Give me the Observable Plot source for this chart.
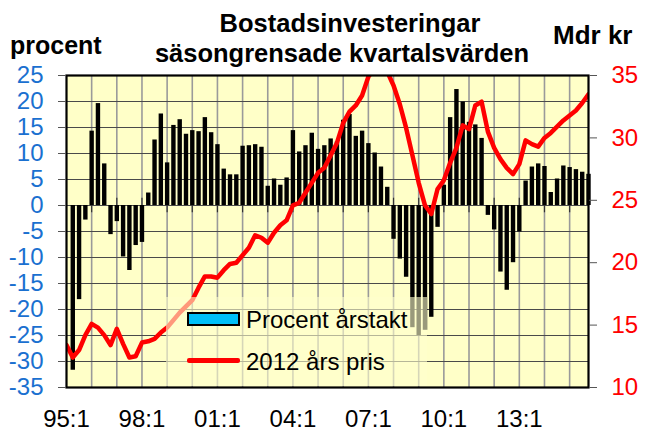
<!DOCTYPE html>
<html>
<head>
<meta charset="utf-8">
<script src="https://cdn.jsdelivr.net/npm/d3@7"></script>
<script src="https://cdn.jsdelivr.net/npm/@observablehq/plot@0.6"></script>
<style>
  html, body { margin: 0; padding: 0; background: #fff; }
  #wrap { position: relative; width: 646px; height: 430px; font-family: "Liberation Sans", Arial, sans-serif; }
  .t { position: absolute; white-space: nowrap; line-height: 1; }
  .b { font-weight: bold; color: #000; }
</style>
</head>
<body>
<div id="wrap"></div>
<script>
// ---- data ----
const xTickPos = [0, 12, 24, 36, 48, 60, 72];
const xTickLabels = ["95:1", "98:1", "01:1", "04:1", "07:1", "10:1", "13:1"];
const leftTicks = [-35, -30, -25, -20, -15, -10, -5, 0, 5, 10, 15, 20, 25];
const rightTicks = [10, 15, 20, 25, 30, 35];
const yearGrid = [4, 8, 12, 16, 20, 24, 28, 32, 36, 40, 44, 48, 52, 56, 60, 64, 68, 72, 76, 80];
const hGrid = [-30, -25, -20, -15, -10, -5, 0, 5, 10, 15, 20];

// Procent årstakt (quarter 95:2 .. 15:4)
const barValues = [
  -31.7, -18.1, -2.8, 14.3, 19.6, 8.0, -5.6, -3.1, -9.9, -12.5, -7.7, -7.1,
  2.4, 12.6, 17.6, 8.2, 15.4, 16.5, 13.7, 14.4, 14.2, 16.9, 14.0, 11.7,
  7.0, 5.9, 5.9, 11.4, 11.5, 11.7, 11.2, 3.7, 5.1, 3.9, 5.3, 14.4,
  10.3, 11.5, 13.9, 10.8, 11.5, 12.8, 12.2, 16.4, 17.5, 13.3, 14.3, 11.9,
  10.1, 7.4, 3.5, -6.5, -10.3, -13.8, -23.5, -25.0, -24.0, -21.5, -4.2, 3.9,
  16.9, 22.3, 19.9, 16.0, 15.5, 12.9, -1.9, -4.7, -12.8, -16.3, -11.0, -5.1,
  4.7, 7.4, 8.0, 7.5, 2.5, 5.1, 7.6, 7.3, 6.9, 6.4, 6.0
];
// 2012 års pris, Mdr kr (quarter 95:1 .. 15:4)
const lineValues = [
  13.4, 12.4, 13.0, 14.2, 15.1, 14.8, 14.2, 13.4, 14.7, 13.5, 12.4, 12.5,
  13.6, 13.7, 13.9, 14.4, 14.8, 15.4, 16.0, 16.5, 17.0, 18.0, 18.9, 18.9,
  18.8, 19.4, 19.9, 20.0, 20.6, 21.2, 22.2, 22.0, 21.6, 22.4, 23.0, 23.4,
  24.6, 24.8, 25.6, 26.4, 27.2, 27.6, 28.6, 29.6, 31.2, 32.1, 32.6, 33.4,
  34.9, 35.6, 36.0, 35.3, 34.2, 32.7, 30.8, 28.6, 26.4, 24.6, 23.9, 25.9,
  26.6, 28.0, 29.2, 31.0, 30.7, 32.6, 32.9, 30.5, 29.2, 28.3, 27.6, 27.1,
  27.9, 29.8, 29.5, 29.3, 30.0, 30.4, 30.9, 31.4, 31.8, 32.2, 32.8, 33.5
];

// ---- mapping right axis onto left scale ----
const L0 = -35, L1 = 25, R0 = 10, R1 = 35;
const toLeft = v => L0 + (v - R0) * (L1 - L0) / (R1 - R0);
const fromLeft = y => R0 + (y - L0) * (R1 - R0) / (L1 - L0);

const bars = barValues.map((v, i) => ({k: i + 1, v}));
const line = lineValues.map((v, i) => ({k: i, v}));

const FONT = "Liberation Sans, Arial, sans-serif";
const chart = Plot.plot({
  width: 646,
  height: 430,
  marginTop: 75,
  marginBottom: 43,
  marginLeft: 66,
  marginRight: 58,
  style: {fontFamily: FONT, fontSize: "24px", background: "transparent", overflow: "visible"},
  x: {type: "linear", domain: [0, 83], axis: null},
  y: {type: "linear", domain: [L0, L1], axis: null},
  marks: [
    Plot.frame({fill: "#ffffc8", stroke: null}),
    Plot.ruleX(yearGrid, {stroke: "#9a9a9a", strokeWidth: 1.6}),
    Plot.ruleY(hGrid, {stroke: "#4a4a4a", strokeWidth: 1.1}),
    Plot.ruleX(yearGrid, {y1: -1.4, y2: 1.4, stroke: "#333", strokeWidth: 1.2}),
    Plot.ruleX(bars, {x: "k", y1: 0, y2: "v", stroke: "#000", strokeWidth: 4.4}),
    Plot.line(line, {x: "k", y: d => toLeft(d.v), stroke: "#ff0000", strokeWidth: 4.5, strokeLinejoin: "round", strokeLinecap: "round", clip: true}),
    Plot.frame({stroke: "#000", strokeWidth: 2.2}),
    // left axis
    Plot.axisY(leftTicks, {anchor: "left", tickSize: 8, tickPadding: 15, stroke: "#555", fill: "#1a70d0", fontSize: 24, tickFormat: d => String(d), label: null}),
    // right axis
    Plot.axisY(rightTicks.map(toLeft), {anchor: "right", tickSize: 8, tickPadding: 15, stroke: "#555", fill: "#ff0000", fontSize: 24, tickFormat: d => String(Math.round(fromLeft(d))), label: null}),
    // x axis labels
    Plot.axisX(xTickPos, {anchor: "bottom", tickSize: 0, tickPadding: 22, fill: "#000", fontSize: 24, tickFormat: d => xTickLabels[xTickPos.indexOf(d)], label: null})
  ]
});

const wrap = document.getElementById("wrap");
chart.style.position = "absolute";
chart.style.left = "0px";
chart.style.top = "0px";
wrap.appendChild(chart);

function addText(txt, cls, css) {
  const d = document.createElement("div");
  d.className = "t " + cls;
  d.textContent = txt;
  Object.assign(d.style, css);
  wrap.appendChild(d);
  return d;
}
// titles
addText("Bostadsinvesteringar", "b", {left: "0px", width: "700px", textAlign: "center", top: "11px", fontSize: "25.5px"});
addText("säsongrensade kvartalsvärden", "b", {left: "0px", width: "684px", textAlign: "center", top: "41px", fontSize: "25.5px"});
addText("procent", "b", {left: "10px", top: "33px", fontSize: "25px"});
addText("Mdr kr", "b", {left: "553px", top: "22px", fontSize: "26px"});

// legend (semi-transparent box over the plot)
const lg = document.createElement("div");
Object.assign(lg.style, {position: "absolute", left: "166px", top: "297px", width: "261px", height: "89px", background: "rgba(255,255,205,0.6)"});
wrap.appendChild(lg);
const sw = document.createElement("div");
Object.assign(sw.style, {position: "absolute", left: "187px", top: "312px", width: "49px", height: "10px", background: "#00c0f8", border: "2px solid #000"});
wrap.appendChild(sw);
const ls = document.createElement("div");
Object.assign(ls.style, {position: "absolute", left: "187px", top: "358px", width: "53px", height: "5px", background: "#ff0000", borderRadius: "2px"});
wrap.appendChild(ls);
addText("Procent årstakt", "", {left: "246px", top: "308px", fontSize: "24px", color: "#000"});
addText("2012 års pris", "", {left: "246px", top: "350px", fontSize: "24px", color: "#000"});
</script>
</body>
</html>
